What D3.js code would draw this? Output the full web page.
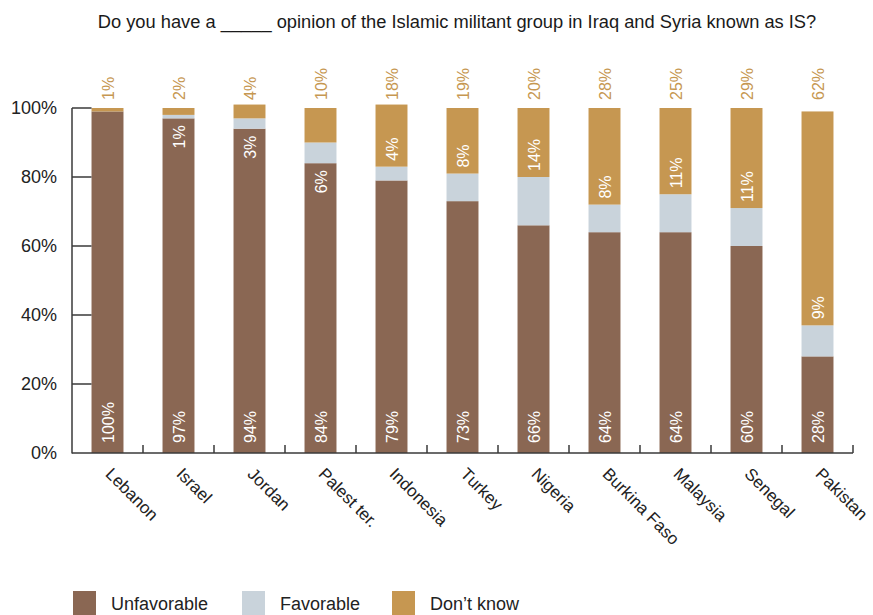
<!DOCTYPE html>
<html><head><meta charset="utf-8">
<script src="https://cdn.jsdelivr.net/npm/d3@7"></script>
<style>body{margin:0;background:#fff;} svg{display:block;font-family:"Liberation Sans",Arial,Helvetica,sans-serif;}</style>
</head><body><svg id="c" width="873" height="615"></svg>
<script>
const categories = ["Lebanon","Israel","Jordan","Palest ter.","Indonesia","Turkey","Nigeria","Burkina Faso","Malaysia","Senegal","Pakistan"];
const unfavorable = [99,97,94,84,79,73,66,64,64,60,28];
const favorable   = [0,1,3,6,4,8,14,8,11,11,9];
const dontKnow    = [1,2,4,10,18,19,20,28,25,29,62];
const unfavLabels = ["100%","97%","94%","84%","79%","73%","66%","64%","64%","60%","28%"];
const favLabels   = ["","1%","3%","6%","4%","8%","14%","8%","11%","11%","9%"];
const dkLabels    = ["1%","2%","4%","10%","18%","19%","20%","28%","25%","29%","62%"];
const yTicks = [0,20,40,60,80,100];
const seriesNames = ["Unfavorable","Favorable","Don\u2019t know"];
const colors = ["#8a6753","#c9d3db","#c69751"];

const svg = d3.select("#c");
const x0 = 72, x1 = 853, yBase = 453, yTop = 108;
const x = d3.scaleBand().domain(categories).range([x0, x1]).paddingInner(0.55).paddingOuter(0.275);
const xb = d3.scaleBand().domain(categories).range([x0, x1]);
const y = d3.scaleLinear().domain([0,100]).range([yBase, yTop]);

svg.append("text").attr("x", 457).attr("y", 28).attr("text-anchor","middle")
  .attr("font-size", 18.3).attr("fill","#1a1a1a")
  .text("Do you have a _____ opinion of the Islamic militant group in Iraq and Syria known as IS?");

const rows = categories.map((c,i)=>({cat:c, Unfavorable:unfavorable[i], Favorable:favorable[i], "Don\u2019t know":dontKnow[i]}));
const stack = d3.stack().keys(seriesNames)(rows);

svg.append("g").selectAll("g").data(stack).join("g")
  .attr("fill",(d,i)=>colors[i])
  .selectAll("rect").data(d=>d).join("rect")
  .attr("x", d=>x(d.data.cat)).attr("width", x.bandwidth())
  .attr("y", d=>y(d[1])).attr("height", d=>y(d[0])-y(d[1]));

// axes
const axisColor = "#3a3a3a";
const ga = svg.append("g");
ga.append("line").attr("x1",x0).attr("x2",x0).attr("y1",y(100)).attr("y2",yBase+0.5).attr("stroke",axisColor).attr("stroke-width",1.5);
ga.append("line").attr("x1",x0).attr("x2",x1).attr("y1",yBase).attr("y2",yBase).attr("stroke",axisColor).attr("stroke-width",1.5);
ga.selectAll(".yt").data(yTicks.filter(t=>t>0)).join("line")
  .attr("x1",x0).attr("x2",x(categories[0])).attr("y1",d=>y(d)).attr("y2",d=>y(d)).attr("stroke",axisColor).attr("stroke-width",1.5);
ga.selectAll(".yl").data(yTicks).join("text")
  .attr("x",57).attr("y",d=>y(d)+6).attr("text-anchor","end").attr("font-size",18).attr("fill","#222")
  .text(d=>d+"%");
ga.selectAll(".xt").data(categories).join("line")
  .attr("x1",d=>xb(d)+xb.bandwidth()).attr("x2",d=>xb(d)+xb.bandwidth())
  .attr("y1",yBase).attr("y2",yBase-8).attr("stroke",axisColor).attr("stroke-width",1.5);
ga.selectAll(".xl").data(categories).join("text")
  .attr("transform",d=>`translate(${xb(d)+xb.bandwidth()/2-3},${yBase+22}) rotate(45)`)
  .attr("font-size",17).attr("fill","#222").text(d=>d);

// value labels
const cx = c => x(c)+x.bandwidth()/2;
const lab = svg.append("g").attr("font-size",16);
lab.selectAll(".u").data(categories).join("text")
  .attr("transform",(d)=>`translate(${cx(d)+6},${yBase-10}) rotate(-90)`)
  .attr("fill","#fff").text((d,i)=>unfavLabels[i]);
lab.selectAll(".dk").data(categories).join("text")
  .attr("transform",(d)=>`translate(${cx(d)+6},${100}) rotate(-90)`)
  .attr("fill","#c69751").text((d,i)=>dkLabels[i]);
lab.selectAll(".f").data(categories).join("text")
  .attr("transform",(d,i)=>{
    if (dontKnow[i] >= 15) return `translate(${cx(d)+6},${y(unfavorable[i]+favorable[i])-6}) rotate(-90)`;
    return `translate(${cx(d)+6},${y(unfavorable[i])+7}) rotate(-90)`;
  })
  .attr("text-anchor",(d,i)=>dontKnow[i]>=15?"start":"end")
  .attr("fill","#fff").text((d,i)=>favLabels[i]);

// legend
const legX = [73,242,392];
const lg = svg.append("g");
seriesNames.forEach((s,i)=>{
  lg.append("rect").attr("x",legX[i]).attr("y",591).attr("width",23).attr("height",24).attr("fill",colors[i]);
  lg.append("text").attr("x",legX[i]+38).attr("y",610).attr("font-size",18).attr("fill","#222").text(s);
});
</script></body></html>
